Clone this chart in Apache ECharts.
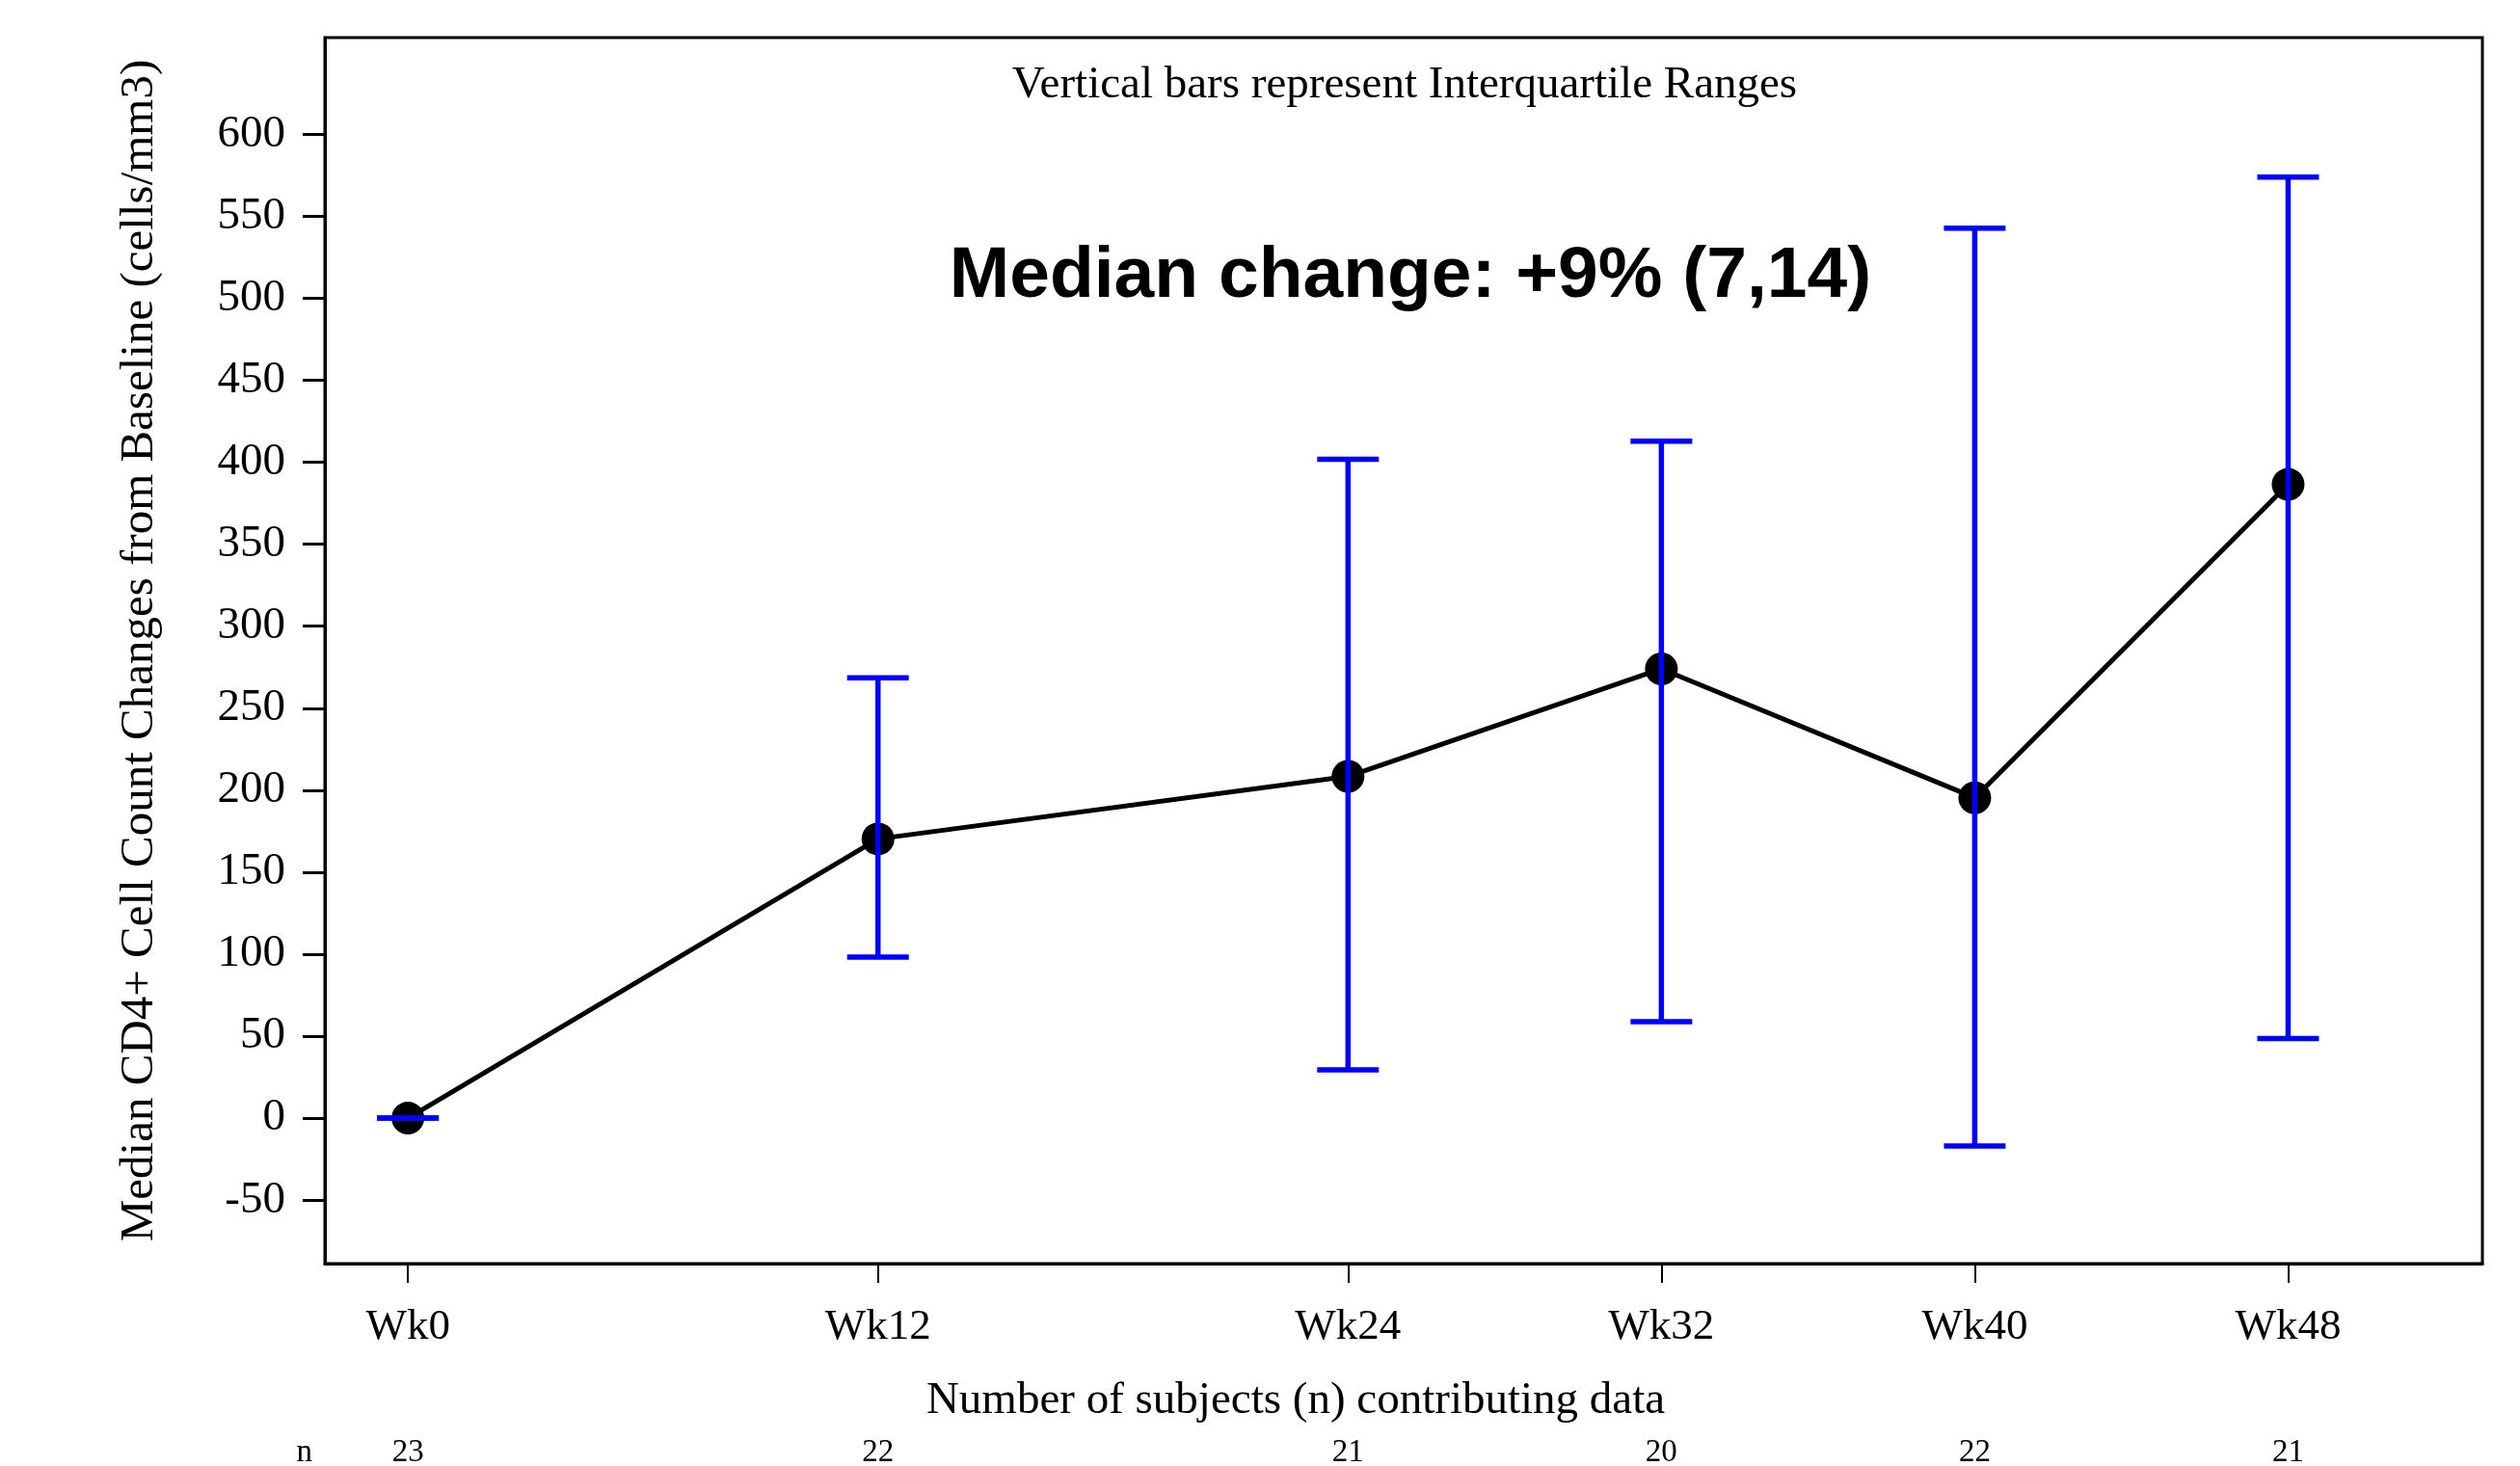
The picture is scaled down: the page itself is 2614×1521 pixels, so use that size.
<!DOCTYPE html>
<html>
<head>
<meta charset="utf-8">
<script src="https://cdn.jsdelivr.net/npm/echarts@6/dist/echarts.min.js"></script>
<style>
  html, body { margin: 0; padding: 0; background: #fff; }
  #chart { width: 2614px; height: 1521px; }
</style>
</head>
<body>
<div id="chart"></div>
<script>
// ---- data ----
const weeks = [0, 12, 24, 32, 40, 48];
const weekLabels = ['Wk0', 'Wk12', 'Wk24', 'Wk32', 'Wk40', 'Wk48'];
const medianChange = [0, 170.3, 208.4, 274.0, 195.4, 386.5];
const q1 = [0, 98.2, 29.5, 58.9, -17.0, 48.6];
const q3 = [0, 268.6, 401.9, 412.9, 542.7, 573.9];
const nSubjects = [23, 22, 21, 20, 22, 21];
const yTicks = [-50, 0, 50, 100, 150, 200, 250, 300, 350, 400, 450, 500, 550, 600];

const serif = '"Liberation Serif", "Times New Roman", serif';
const lineData = weeks.map((w, i) => [w, medianChange[i]]);
const iqrData = weeks.map((w, i) => [w, q1[i], q3[i]]);

const chart = echarts.init(document.getElementById('chart'), null, { renderer: 'canvas' });

const option = {
  backgroundColor: '#ffffff',
  animation: false,
  grid: {
    left: 337, right: 39, top: 39, bottom: 210,
    containLabel: false, outerBoundsMode: 'none',
    show: true, borderColor: '#000', borderWidth: 3, backgroundColor: 'transparent'
  },
  xAxis: [
    {
      type: 'value', min: -2.12, max: 52.96,
      position: 'bottom',
      splitLine: { show: false },
      axisLine: { show: true, onZero: false, lineStyle: { color: '#000', width: 3 } },
      axisTick: { show: true, customValues: weeks, length: 20, lineStyle: { color: '#000', width: 2 } },
      axisLabel: {
        customValues: weeks,
        formatter: v => weekLabels[weeks.indexOf(v)],
        fontFamily: serif, fontSize: 45, color: '#000', margin: 44
      },
      name: 'Number of subjects (n) contributing data',
      nameLocation: 'middle', nameGap: 143,
      nameTextStyle: { fontFamily: serif, fontSize: 47, color: '#000', verticalAlign: 'middle', padding: [0, 224, 0, 0] }
    },
    {
      type: 'value', min: -2.12, max: 52.96,
      position: 'bottom', offset: 196,
      splitLine: { show: false },
      axisLine: { show: false, onZero: false },
      axisTick: { show: false },
      axisLabel: {
        customValues: weeks,
        formatter: v => String(nSubjects[weeks.indexOf(v)]),
        fontFamily: serif, fontSize: 33, color: '#000', margin: 0, verticalAlign: 'middle'
      },
      name: 'n', nameLocation: 'start', nameGap: 13,
      nameTextStyle: { fontFamily: serif, fontSize: 33, color: '#000', verticalAlign: 'middle' }
    }
  ],
  yAxis: {
    type: 'value', min: -88.7, max: 659,
    splitLine: { show: false },
    axisLine: { show: true, onZero: false, lineStyle: { color: '#000', width: 3 } },
    axisTick: { show: true, customValues: yTicks, length: 23, lineStyle: { color: '#000', width: 3 } },
    axisLabel: {
      customValues: yTicks,
      fontFamily: serif, fontSize: 47, color: '#000', margin: 41
    },
    name: 'Median CD4+ Cell Count Changes from Baseline (cells/mm3)',
    nameLocation: 'middle', nameGap: 192, nameRotate: 90,
    nameTextStyle: { fontFamily: serif, fontSize: 49, color: '#000', verticalAlign: 'middle' }
  },
  graphic: [
    {
      type: 'text',
      style: {
        text: 'Vertical bars represent Interquartile Ranges',
        x: 1457, y: 89, align: 'center', verticalAlign: 'middle',
        font: '47px ' + serif, fill: '#000'
      }
    },
    {
      type: 'text',
      style: {
        text: 'Median change: +9% (7,14)',
        x: 1463, y: 287, align: 'center', verticalAlign: 'middle',
        font: 'bold 75px "Liberation Sans", Arial, sans-serif', fill: '#000'
      }
    }
  ],
  series: [
    {
      type: 'line',
      data: lineData,
      xAxisIndex: 0,
      symbol: 'circle', symbolSize: 34,
      itemStyle: { color: '#000' },
      lineStyle: { color: '#000', width: 5 },
      z: 2
    },
    {
      type: 'custom',
      data: iqrData,
      xAxisIndex: 0,
      encode: { x: 0, y: [1, 2] },
      z: 3,
      renderItem: function (params, api) {
        const x = api.value(0);
        const lo = api.coord([x, api.value(1)]);
        const hi = api.coord([x, api.value(2)]);
        const hw = 32;
        const st = { stroke: '#0000ff', lineWidth: 5.5 };
        return {
          type: 'group',
          children: [
            { type: 'line', shape: { x1: lo[0], y1: lo[1], x2: hi[0], y2: hi[1] }, style: st },
            { type: 'line', shape: { x1: lo[0] - hw, y1: lo[1], x2: lo[0] + hw, y2: lo[1] }, style: st },
            { type: 'line', shape: { x1: hi[0] - hw, y1: hi[1], x2: hi[0] + hw, y2: hi[1] }, style: st }
          ]
        };
      }
    }
  ]
};
chart.setOption(option);
</script>
</body>
</html>
